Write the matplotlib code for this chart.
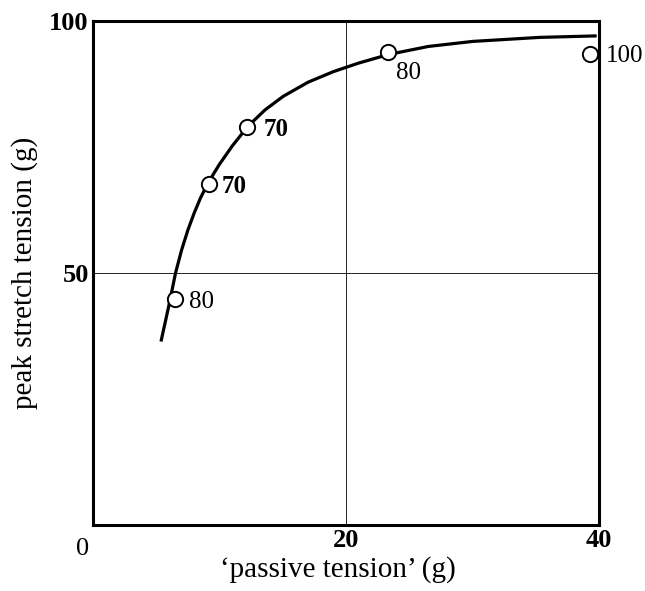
import numpy as np
import matplotlib
matplotlib.use('Agg')
import matplotlib.pyplot as plt

plt.rcParams['font.family'] = ['Liberation Serif', 'DejaVu Serif']

# measured points: passive tension (g), peak stretch tension (g)
px = [6.5, 9.2, 12.2, 23.3, 39.3]
py = [44.8, 67.7, 79.0, 93.8, 93.6]
plabels = ['80', '70', '70', '80', '100']
# label offsets (points) and weights
offs = [(10, -2), (9, -2), (12, -2), (6, -15), (11, -2)]
weights = ['normal', 'bold', 'bold', 'normal', 'normal']

# hand drawn curve
cx = [5.38, 6.0, 6.53, 7.0, 7.5, 8.0, 8.5, 9.12, 10.0, 11.0, 12.23, 13.6,
      15.04, 17.0, 19.0, 21.0, 23.35, 26.5, 30.0, 35.3, 39.8]
cy = [36.4, 43.5, 50.0, 54.5, 58.5, 61.9, 64.9, 68.0, 71.6, 75.2, 79.1, 82.4,
      85.1, 87.9, 90.0, 91.7, 93.4, 95.0, 96.0, 96.8, 97.1]

fig = plt.figure(figsize=(6.45, 5.91), dpi=100)
ax = fig.add_axes([0.144, 0.112, 0.785, 0.852])

ax.axvline(20, color='black', lw=0.6)
ax.axhline(50, color='black', lw=0.6)
ax.plot(cx, cy, color='black', lw=2.3, solid_capstyle='butt',
        solid_joinstyle='round')
ax.plot(px, py, 'o', ms=11, mfc='white', mec='black', mew=1.4,
        clip_on=False, zorder=5)
for x, y, s, o, w in zip(px, py, plabels, offs, weights):
    ax.annotate(s, (x, y), xytext=o, textcoords='offset points',
                ha='left', va='center', fontsize=18, fontweight=w)

ax.set_xlim(0, 40)
ax.set_ylim(0, 100)
ax.set_xticks([20, 40])
ax.set_xticklabels(['20', '40'], fontsize=19, fontweight='bold')
ax.set_yticks([50, 100])
ax.set_yticklabels(['50', '100'], fontsize=19, fontweight='bold')
ax.tick_params(length=0, pad=3)
ax.text(-0.8, -4.8, '0', ha='center', va='center', fontsize=19)
for sp in ax.spines.values():
    sp.set_linewidth(2.2)

ax.set_xlabel('\u2018passive tension\u2019 (g)', fontsize=21)
ax.xaxis.set_label_coords(0.483, -0.062)
ax.set_ylabel('peak stretch tension (g)', fontsize=21, labelpad=8)

fig.savefig('out.png', dpi=100)
